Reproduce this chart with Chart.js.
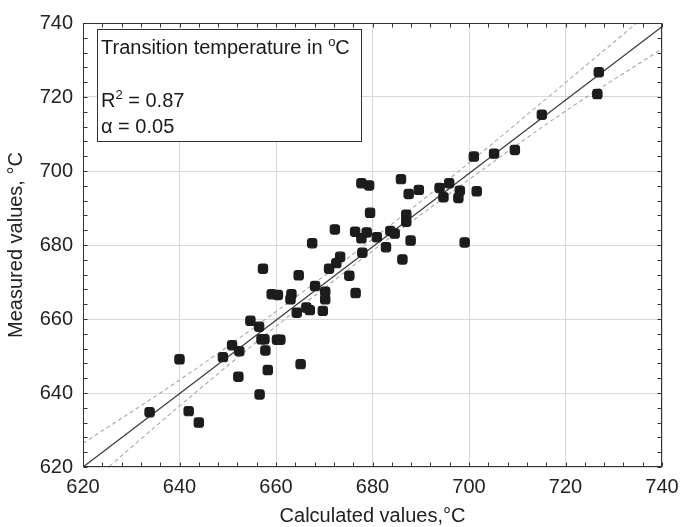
<!DOCTYPE html>
<html><head><meta charset="utf-8">
<script src="https://cdn.jsdelivr.net/npm/chart.js@4/dist/chart.umd.min.js"></script>
<style>html,body{margin:0;padding:0;background:#fff}#wrap{width:684px;height:527px}</style>
</head><body><div id="wrap"><canvas id="c" width="684" height="527"></canvas></div>
<script>
// ---- data ----
const calculated = [633.8,640.0,641.9,644.0,649.0,650.9,652.4,652.2,654.7,656.5,656.6,657.0,657.6,657.3,657.8,658.3,659.1,660.4,660.2,660.9,663.2,663.0,664.3,664.7,665.1,666.3,667.0,667.5,668.1,669.7,670.2,670.2,671.0,672.2,672.5,673.3,675.2,676.5,676.4,677.7,677.7,677.9,678.8,679.3,679.5,680.9,682.8,683.7,684.6,685.9,686.2,687.0,687.0,687.5,687.9,689.6,693.9,694.7,695.9,697.8,698.1,699.1,701.0,701.6,705.2,709.5,715.1,726.6,726.9];
const measured   = [634.8,649.1,635.1,632.0,649.7,652.9,651.3,644.4,659.5,657.9,639.6,654.5,654.5,673.6,651.5,646.2,666.7,666.5,654.4,654.4,666.7,665.3,661.7,671.8,647.8,663.1,662.4,680.5,668.9,662.2,667.4,665.3,673.6,684.2,675.1,676.8,671.7,667.0,683.6,696.7,681.8,677.9,683.4,696.1,688.7,682.1,679.4,683.8,683.1,697.8,676.1,688.2,686.3,693.8,681.2,694.9,695.4,692.9,696.7,692.7,694.7,680.7,703.9,694.5,704.7,705.7,715.2,720.8,726.7];
const fitX = [620, 740];
const fitY = [620, 739];
const bandX     = [620, 640, 660, 680, 700, 720, 740];
const upperBand = [626.4, 643.5, 662.0, 681.6, 702.2, 723.9, 745.7];
const lowerBand = [614.0, 636.5, 658.0, 678.4, 697.7, 716.2, 733.0];
const xTickValues = [620, 640, 660, 680, 700, 720, 740];
const yTickValues = [620, 640, 660, 680, 700, 720, 740];
const xTitle = 'Calculated values,°C';
const yTitle = 'Measured values, °C';
const boxLine1 = 'Transition temperature in ';
const boxLine1Sup = 'o';
const boxLine1End = 'C';
const boxR = 'R';
const boxRSup = '2';
const boxREnd = ' = 0.87';
const boxAlpha = 'α = 0.05';

const FONT = "'Liberation Sans', Arial, sans-serif";

const frame = {
  id: 'frame',
  afterDraw(chart) {
    const {ctx, chartArea: a, scales: {x, y}} = chart;
    ctx.save();
    ctx.strokeStyle = '#333';
    ctx.lineWidth = 1;
    const L = Math.round(a.left) + 0.5, R = Math.round(a.right) - 0.5;
    const T = Math.round(a.top) + 0.5, B = Math.round(a.bottom) - 0.5;
    ctx.beginPath();
    for (let v = 620; v <= 740; v += 4) {
      const px = Math.round(x.getPixelForValue(v)) + 0.5;
      ctx.moveTo(px, B); ctx.lineTo(px, B - 4);
      ctx.moveTo(px, T); ctx.lineTo(px, T + 4);
      const py = Math.round(y.getPixelForValue(v)) + 0.5;
      ctx.moveTo(L, py); ctx.lineTo(L + 4, py);
      ctx.moveTo(R, py); ctx.lineTo(R - 4, py);
    }
    ctx.stroke();
    ctx.strokeRect(L, T, R - L, B - T);
    const bx = 97.5, by = 29.5, bw = 264, bh = 112;
    ctx.fillStyle = '#fff';
    ctx.fillRect(bx, by, bw, bh);
    ctx.strokeStyle = '#333';
    ctx.strokeRect(bx, by, bw, bh);
    ctx.fillStyle = '#1a1a1a';
    ctx.textBaseline = 'alphabetic';
    ctx.textAlign = 'left';
    const f = '20px ' + FONT, fs = '13px ' + FONT;
    let tx = 101;
    ctx.font = f; ctx.fillText(boxLine1, tx, 54);
    tx += ctx.measureText(boxLine1).width;
    ctx.font = fs; ctx.fillText(boxLine1Sup, tx, 46);
    tx += ctx.measureText(boxLine1Sup).width;
    ctx.font = f; ctx.fillText(boxLine1End, tx, 54);
    tx = 101;
    ctx.fillText(boxR, tx, 107);
    tx += ctx.measureText(boxR).width;
    ctx.font = fs; ctx.fillText(boxRSup, tx, 99);
    tx += ctx.measureText(boxRSup).width;
    ctx.font = f; ctx.fillText(boxREnd, tx, 107);
    ctx.fillText(boxAlpha, 101, 133);
    ctx.restore();
  }
};

const toXY = (xs, ys) => xs.map((v, i) => ({x: v, y: ys[i]}));

new Chart(document.getElementById('c'), {
  type: 'scatter',
  data: {
    datasets: [
      {
        label: 'data', data: toXY(calculated, measured),
        pointStyle: 'rectRounded', pointRadius: 5.4, pointHoverRadius: 5.4,
        backgroundColor: '#1c1c1c', borderColor: '#1c1c1c', borderWidth: 1.2
      },
      {
        label: 'fit', data: toXY(fitX, fitY), showLine: true,
        borderColor: '#3a3a3a', borderWidth: 1.3, pointRadius: 0
      },
      {
        label: 'upper', data: toXY(bandX, upperBand), showLine: true,
        borderColor: '#a8a8a8', borderWidth: 1.1, borderDash: [4, 3], pointRadius: 0,
        cubicInterpolationMode: 'monotone'
      },
      {
        label: 'lower', data: toXY(bandX, lowerBand), showLine: true,
        borderColor: '#a8a8a8', borderWidth: 1.1, borderDash: [4, 3], pointRadius: 0,
        cubicInterpolationMode: 'monotone'
      }
    ]
  },
  options: {
    responsive: false,
    animation: false,
    devicePixelRatio: 1,
    layout: {padding: {top: 23, right: 22, left: 0, bottom: 0}},
    plugins: {legend: {display: false}, tooltip: {enabled: false}},
    scales: {
      x: {
        type: 'linear', min: 620, max: 740,
        afterBuildTicks: s => { s.ticks = xTickValues.map(v => ({value: v})); },
        afterFit: s => { s.height = 60; },
        ticks: {font: {family: FONT, size: 20, lineHeight: 1.7}, color: '#222', padding: 3, maxRotation: 0},
        grid: {color: '#d9d9d9', drawTicks: false},
        border: {display: false},
        title: {display: true, text: xTitle, font: {family: FONT, size: 20}, color: '#222', padding: {top: 0, bottom: -1}}
      },
      y: {
        type: 'linear', min: 620, max: 740,
        afterBuildTicks: s => { s.ticks = yTickValues.map(v => ({value: v})); },
        afterFit: s => { s.width = 83; },
        ticks: {font: {family: FONT, size: 20}, color: '#222', padding: 10},
        grid: {color: '#d9d9d9', drawTicks: false},
        border: {display: false},
        title: {display: true, text: yTitle, font: {family: FONT, size: 20}, color: '#222', padding: {top: 4, bottom: 0}}
      }
    }
  },
  plugins: [frame]
});
</script>
</body></html>
